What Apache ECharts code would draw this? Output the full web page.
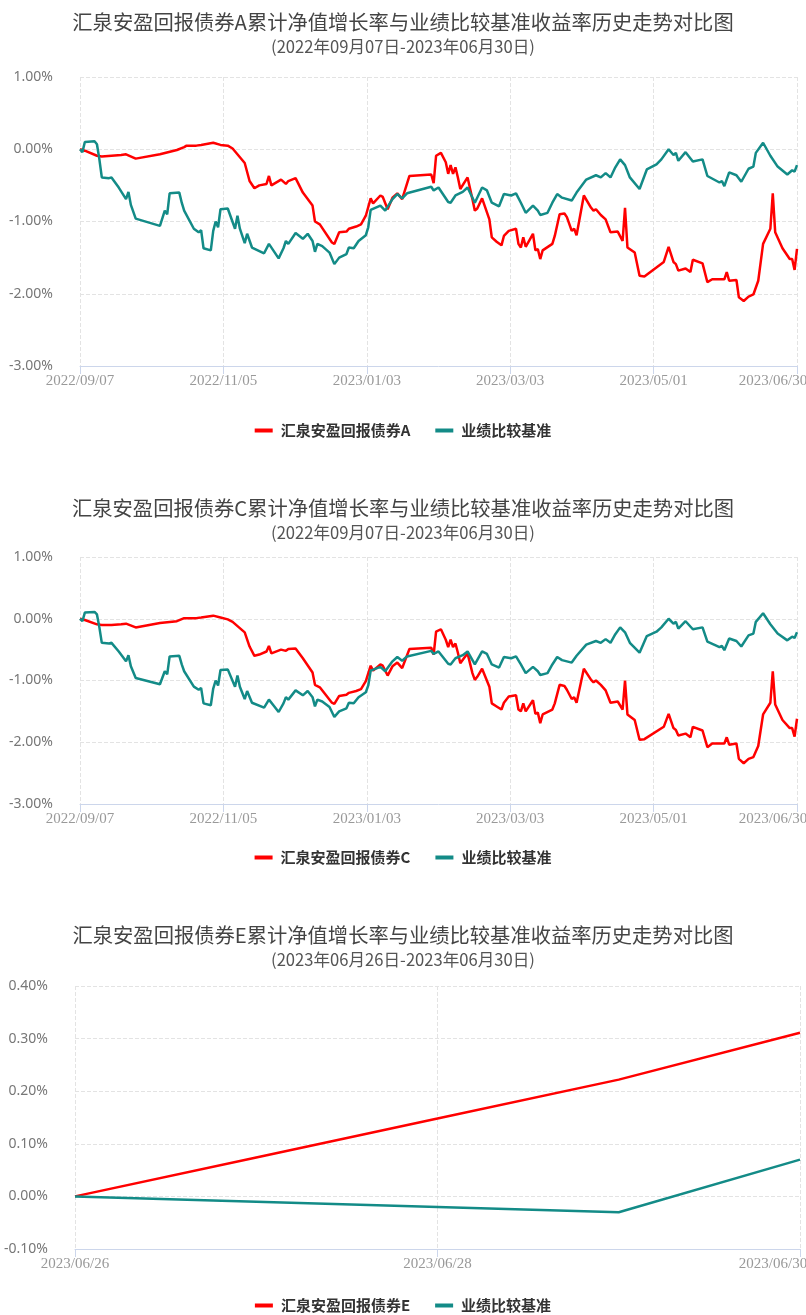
<!DOCTYPE html>
<html><head><meta charset="utf-8">
<script src="https://cdn.jsdelivr.net/npm/echarts/dist/echarts.min.js"></script>
<style>html,body{margin:0;padding:0;background:#fff}#c{width:806px;height:1315px}</style>
</head><body><div id="c"></div><script>
// ---- data ----
const titleA = '汇泉安盈回报债券A累计净值增长率与业绩比较基准收益率历史走势对比图';
const titleC = '汇泉安盈回报债券C累计净值增长率与业绩比较基准收益率历史走势对比图';
const titleE = '汇泉安盈回报债券E累计净值增长率与业绩比较基准收益率历史走势对比图';
const periodAC = '(2022年09月07日-2023年06月30日)';
const periodE = '(2023年06月26日-2023年06月30日)';
const nameA = '汇泉安盈回报债券A', nameC = '汇泉安盈回报债券C', nameE = '汇泉安盈回报债券E', nameB = '业绩比较基准';

// x tick labels (A / C charts); x values are days since 2022/09/07
const tickLabels = ['2022/09/07','2022/11/05','2023/01/03','2023/03/03','2023/05/01','2023/06/30'];
const totalDays = 296;

// fund A and C sample days and cumulative returns (%)
const daysAC = [0,2,7,9,13,17,19,23,33,40,43,44,48,50,55,58,61,63,68,70,72,74,77,78,79,83,85,86,89,92,96,97,99,104,105,107,110,111,114,116,118,120,121,124,125,127,129,131,133,136,145,146,147,149,151,152,153,154,155,156,157,160,162,163,164,166,169,170,172,174,175,177,180,181,182,183,184,187,188,189,190,191,195,196,198,200,201,203,204,205,208,211,212,213,215,217,219,222,224,225,226,229,231,233,241,243,245,246,247,250,252,253,257,259,261,266,267,268,271,272,274,276,278,280,282,285,286,287,290,293,294,295,296];
const navA = [0.00,-0.02,-0.09,-0.10,-0.09,-0.08,-0.07,-0.13,-0.07,-0.01,0.03,0.05,0.05,0.06,0.09,0.06,0.05,0.01,-0.19,-0.44,-0.54,-0.50,-0.48,-0.37,-0.50,-0.42,-0.48,-0.44,-0.40,-0.60,-0.78,-1.00,-1.04,-1.29,-1.31,-1.15,-1.14,-1.10,-1.07,-1.04,-0.92,-0.68,-0.75,-0.64,-0.66,-0.83,-0.67,-0.61,-0.69,-0.37,-0.35,-0.47,-0.09,-0.05,-0.18,-0.34,-0.22,-0.34,-0.25,-0.39,-0.55,-0.39,-0.69,-0.85,-0.82,-0.68,-0.97,-1.22,-1.28,-1.33,-1.20,-1.13,-1.10,-1.31,-1.36,-1.22,-1.35,-1.17,-1.40,-1.38,-1.52,-1.40,-1.31,-1.20,-0.90,-0.89,-0.94,-1.13,-1.10,-1.19,-0.64,-0.81,-0.85,-0.83,-0.91,-0.97,-1.15,-1.14,-1.27,-0.81,-1.36,-1.43,-1.75,-1.76,-1.56,-1.35,-1.56,-1.59,-1.68,-1.65,-1.70,-1.53,-1.58,-1.84,-1.80,-1.80,-1.70,-1.82,-1.81,-2.05,-2.10,-2.04,-2.01,-1.82,-1.31,-1.10,-0.61,-1.15,-1.37,-1.52,-1.52,-1.67,-1.38];
const navC = [0.00,-0.02,-0.09,-0.10,-0.10,-0.09,-0.08,-0.14,-0.07,-0.04,0.01,0.01,0.01,0.02,0.05,0.02,-0.01,-0.05,-0.22,-0.45,-0.60,-0.58,-0.53,-0.44,-0.56,-0.50,-0.52,-0.49,-0.48,-0.64,-0.87,-1.07,-1.11,-1.36,-1.38,-1.25,-1.23,-1.20,-1.17,-1.14,-1.01,-0.76,-0.84,-0.74,-0.76,-0.92,-0.77,-0.71,-0.80,-0.49,-0.47,-0.58,-0.21,-0.17,-0.34,-0.46,-0.34,-0.46,-0.40,-0.55,-0.72,-0.56,-0.88,-0.99,-0.94,-0.81,-1.10,-1.37,-1.42,-1.47,-1.36,-1.26,-1.24,-1.47,-1.50,-1.37,-1.50,-1.32,-1.54,-1.52,-1.69,-1.55,-1.47,-1.37,-1.07,-1.09,-1.15,-1.30,-1.27,-1.36,-0.81,-0.99,-1.03,-1.00,-1.07,-1.16,-1.36,-1.34,-1.47,-1.00,-1.55,-1.64,-1.96,-1.95,-1.75,-1.54,-1.77,-1.80,-1.89,-1.86,-1.92,-1.75,-1.81,-2.08,-2.02,-2.02,-1.92,-2.04,-2.02,-2.27,-2.34,-2.27,-2.24,-2.06,-1.55,-1.36,-0.85,-1.39,-1.64,-1.77,-1.77,-1.91,-1.62];

// benchmark sample days and cumulative returns (%)
const daysB = [0,1,2,6,7,8,9,12,13,16,19,20,21,23,33,35,36,37,41,42,43,47,49,50,51,54,55,56,57,58,61,64,65,66,68,69,71,76,78,80,82,84,85,86,89,92,94,96,97,98,100,103,105,107,110,111,113,115,118,119,120,124,126,129,131,133,135,145,146,148,152,153,155,158,160,163,166,168,170,173,175,178,180,182,184,187,189,190,193,195,197,199,203,205,209,213,215,217,219,221,223,225,227,231,234,238,240,243,245,246,247,250,253,257,259,264,265,266,268,271,273,276,278,279,282,285,288,292,294,295,296];
const bench = [0.00,-0.04,0.10,0.11,0.07,-0.14,-0.39,-0.40,-0.39,-0.53,-0.69,-0.59,-0.77,-0.96,-1.06,-0.85,-0.90,-0.61,-0.60,-0.74,-0.85,-1.10,-1.15,-1.12,-1.37,-1.40,-1.13,-1.00,-1.08,-0.83,-0.82,-1.10,-0.92,-1.10,-1.30,-1.17,-1.36,-1.44,-1.31,-1.41,-1.51,-1.37,-1.27,-1.31,-1.16,-1.24,-1.17,-1.27,-1.42,-1.31,-1.34,-1.43,-1.59,-1.50,-1.45,-1.36,-1.37,-1.27,-1.19,-1.08,-0.84,-0.78,-0.85,-0.69,-0.62,-0.68,-0.61,-0.52,-0.57,-0.53,-0.73,-0.74,-0.64,-0.59,-0.53,-0.74,-0.53,-0.57,-0.74,-0.79,-0.62,-0.64,-0.61,-0.74,-0.88,-0.78,-0.85,-0.91,-0.88,-0.74,-0.62,-0.67,-0.71,-0.60,-0.42,-0.36,-0.39,-0.33,-0.39,-0.25,-0.14,-0.22,-0.39,-0.55,-0.28,-0.21,-0.14,0.00,-0.08,-0.05,-0.16,-0.04,-0.17,-0.14,-0.37,-0.46,-0.44,-0.51,-0.32,-0.36,-0.45,-0.27,-0.24,-0.05,0.09,-0.09,-0.24,-0.35,-0.29,-0.31,-0.22];

// fund E chart
const datesE = ['2023/06/26','2023/06/27','2023/06/28','2023/06/29','2023/06/30'];
const navE = [0.000,0.074,0.148,0.222,0.311];
const benchE = [0.000,-0.010,-0.020,-0.030,0.070];

// ---- styles ----
const RED = '#ff0000', TEAL = '#138b87';
const CJK = '"Noto Sans CJK SC", sans-serif';
const AXIS_C = '#ccd6eb', GRID_C = '#e3e3e3';
const XFONT = {color: '#999', fontSize: 15, fontFamily: '"Liberation Serif", serif'};

const zip = (xs, ys) => xs.map((x, i) => [x, ys[i]]);

function titles(top, main, sub) {
  return [
    {text: main, left: 'center', top: top, padding: 0,
     textStyle: {fontSize: 20.3, fontWeight: 'normal', color: '#444', fontFamily: CJK}},
    {text: sub, left: 'center', top: top + 26, padding: 0,
     textStyle: {fontSize: 16.6, fontWeight: 'normal', color: '#555', fontFamily: CJK}}
  ];
}
function legend(top, fundName) {
  return {left: 'center', top: top, padding: 0, icon: 'rect', itemWidth: 18, itemHeight: 4,
    itemGap: 25, data: [fundName, nameB],
    textStyle: {fontSize: 15, fontWeight: 'bold', color: '#333', fontFamily: CJK, padding: [0, 0, 0, 3]}};
}
function xLabel(extra, shift) {
  return Object.assign({margin: 8,
    rich: {n: Object.assign({}, XFONT), last: Object.assign({padding: [0, shift, 0, 0]}, XFONT)}}, XFONT, extra);
}
function dayAxis(gi) {
  const step = totalDays / 5;
  return {type: 'value', gridIndex: gi, min: 0, max: totalDays, interval: step,
    axisLine: {show: true, onZero: false, lineStyle: {color: AXIS_C}},
    axisTick: {show: true, length: 8, lineStyle: {color: AXIS_C}},
    splitLine: {show: true, lineStyle: {type: 'dashed', color: GRID_C}},
    axisLabel: xLabel({formatter: v => {
      const i = Math.round(v / step);
      return i === tickLabels.length - 1 ? '{last|' + tickLabels[i] + '}' : '{n|' + tickLabels[i] + '}';
    }}, 48)};
}
function pctAxis(gi, min, max, interval) {
  return {type: 'value', gridIndex: gi, min: min, max: max, interval: interval,
    axisLine: {show: false}, axisTick: {show: false},
    splitLine: {show: true, lineStyle: {type: 'dashed', color: GRID_C}},
    axisLabel: {formatter: v => v.toFixed(2) + '%', color: '#777', fontSize: 14, fontFamily: '"Noto Sans", sans-serif', margin: 27}};
}
function line(name, data, color, gi) {
  return {name: name, type: 'line', xAxisIndex: gi, yAxisIndex: gi, data: data, showSymbol: false,
    symbol: 'none', lineStyle: {width: 2.5, color: color}, itemStyle: {color: color}};
}

const chart = echarts.init(document.getElementById('c'), null, {renderer: 'canvas'});
chart.setOption({
  animation: false,
  title: [].concat(titles(12, titleA, periodAC), titles(498, titleC, periodAC), titles(925, titleE, periodE)),
  legend: [legend(423, nameA), legend(850, nameC), legend(1298, nameE)],
  grid: [
    {left: 80, right: 9, top: 77, height: 289, containLabel: false, outerBoundsMode: 'none'},
    {left: 80, right: 9, top: 557, height: 247, containLabel: false, outerBoundsMode: 'none'},
    {left: 75, right: 6, top: 986, height: 263, containLabel: false, outerBoundsMode: 'none'}
  ],
  xAxis: [dayAxis(0), dayAxis(1), {
    type: 'category', gridIndex: 2, data: datesE, boundaryGap: false,
    axisLine: {show: true, onZero: false, lineStyle: {color: AXIS_C}},
    axisTick: {show: true, length: 8, interval: 1, lineStyle: {color: AXIS_C}},
    splitLine: {show: true, interval: 1, lineStyle: {type: 'dashed', color: GRID_C}},
    axisLabel: xLabel({interval: 1, formatter: (v, i) =>
      i === datesE.length - 1 ? '{last|' + v + '}' : '{n|' + v + '}'}, 54)
  }],
  yAxis: [pctAxis(0, -3, 1, 1), pctAxis(1, -3, 1, 1), pctAxis(2, -0.1, 0.4, 0.1)],
  series: [
    line(nameA, zip(daysAC, navA), RED, 0),
    line(nameB, zip(daysB, bench), TEAL, 0),
    line(nameC, zip(daysAC, navC), RED, 1),
    line(nameB, zip(daysB, bench), TEAL, 1),
    line(nameE, navE, RED, 2),
    line(nameB, benchE, TEAL, 2)
  ]
});
</script></body></html>
